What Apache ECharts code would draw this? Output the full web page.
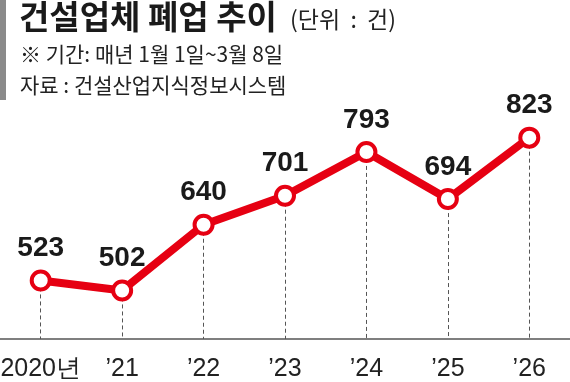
<!DOCTYPE html>
<html><head><meta charset="utf-8">
<script src="https://cdn.jsdelivr.net/npm/echarts@6/dist/echarts.min.js"></script>
<style>html,body{margin:0;padding:0;background:#fff}#c{width:570px;height:382px}</style>
</head><body><div id="c"></div>
<script>
const categories = ['2020년', '’21', '’22', '’23', '’24', '’25', '’26'];
const values = [523, 502, 640, 701, 793, 694, 823];
const yMin = 400, yMax = 900;
const titleText = '건설업체 폐업 추이';
const unitText = '(단위  :  건)';
const periodText = '※ 기간: 매년 1월 1일~3월 8일';
const sourceText = '자료 : 건설산업지식정보시스템';

const RED = '#e60012';
const NUM_FONT = '"Liberation Sans", Arial, sans-serif';
const KR_FONT = '"Noto Sans CJK KR", "Noto Sans", sans-serif';

const chart = echarts.init(document.getElementById('c'), null, {renderer: 'canvas'});
chart.setOption({
  animation: false,
  backgroundColor: '#fff',
  grid: {left: 0, right: 0, top: 101, bottom: 43, containLabel: false, outerBoundsMode: 'none'},
  xAxis: {
    type: 'category', data: categories, boundaryGap: true,
    axisLine: {lineStyle: {color: '#555', width: 1.5}},
    axisTick: {show: false},
    axisLabel: {color: '#222', fontFamily: NUM_FONT, fontSize: 25, margin: 18, interval: 0, hideOverlap: false}
  },
  yAxis: {
    type: 'value', min: yMin, max: yMax, show: false
  },
  series: [{
    type: 'line', data: values,
    lineStyle: {color: RED, width: 8},
    symbol: 'circle', symbolSize: 18,
    itemStyle: {color: '#fff', borderColor: RED, borderWidth: 4},
    z: 5,
    label: {show: true, position: 'top', distance: 7, color: '#1a1a1a',
      fontFamily: NUM_FONT, fontWeight: 'bold', fontSize: 28},
    markLine: {
      silent: true, symbol: 'none', label: {show: false},
      lineStyle: {color: '#555', type: [4, 3], width: 1},
      data: values.map((v, i) => [{coord: [i, v]}, {coord: [i, yMin]}])
    }
  }],
  graphic: [
    {type: 'rect', shape: {x: 0, y: 0, width: 6, height: 100}, style: {fill: '#8a8a8a'}},
    {type: 'text', left: 19, top: 0, style: {text: titleText, font: 'bold 33px ' + KR_FONT, fill: '#1a1a1a'}},
    {type: 'text', left: 290, top: 8, style: {text: unitText, font: '23px ' + KR_FONT, fill: '#222'}},
    {type: 'text', left: 20, top: 44, style: {text: periodText, font: '21px ' + KR_FONT, fill: '#222'}},
    {type: 'text', left: 20, top: 75, style: {text: sourceText, font: '21px ' + KR_FONT, fill: '#222'}}
  ]
});
</script></body></html>
